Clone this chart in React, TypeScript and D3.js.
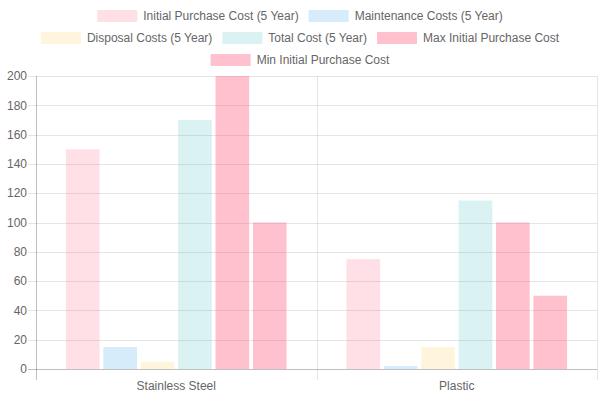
import * as d3 from 'd3';
import React, { useEffect, useRef } from 'react';

const categories = ['Stainless Steel', 'Plastic'];
const seriesNames = [
    'Initial Purchase Cost (5 Year)',
    'Maintenance Costs (5 Year)',
    'Disposal Costs (5 Year)',
    'Total Cost (5 Year)',
    'Max Initial Purchase Cost',
    'Min Initial Purchase Cost',
];
const initialCost = [150, 75];
const maintenanceCost = [15, 2];
const disposalCost = [5, 15];
const totalCost = [170, 115];
const maxInitialCost = [200, 100];
const minInitialCost = [100, 50];
const yTicks = [0, 20, 40, 60, 80, 100, 120, 140, 160, 180, 200];

const fills = [
    'rgba(255, 99, 132, 0.2)',
    'rgba(54, 162, 235, 0.2)',
    'rgba(255, 206, 86, 0.2)',
    'rgba(75, 192, 192, 0.2)',
    'rgba(255, 99, 132, 0.4)',
    'rgba(255, 99, 132, 0.4)',
];

export default function App() {
    const ref = useRef<any>();

    useEffect(() => {
        const series = [initialCost, maintenanceCost, disposalCost, totalCost, maxInitialCost, minInitialCost];
        const width = 600;
        const height = 400;
        const font = '"Liberation Sans", Arial, Helvetica, sans-serif';

        const svg = d3.select<any, any>(ref.current)
            .attr('width', width)
            .attr('height', height)
            .style('position', 'absolute')
            .style('left', '0px')
            .style('top', '0px')
            .style('font-family', font);
        svg.selectAll('*').remove();

        //legend: measure, then wrap into centred rows
        const legend = svg.append('g').attr('class', 'legend');
        const items = seriesNames.map((name, i) => {
            const g = legend.append('g');
            g.append('rect').attr('width', 40).attr('height', 12).attr('fill', fills[i]);
            const t = g.append('text')
                .attr('x', 46).attr('y', 6).attr('dy', '0.35em')
                .attr('font-size', 12).attr('fill', '#666').text(name);
            const w = 46 + (t.node() as any).getComputedTextLength();
            return { g, w };
        });
        const rows: any[][] = [[]];
        let rowW = 0;
        items.forEach((it) => {
            if (rows[rows.length - 1].length && rowW + 10 + it.w > 560) {
                rows.push([]);
                rowW = 0;
            }
            rowW += (rows[rows.length - 1].length ? 10 : 0) + it.w;
            rows[rows.length - 1].push(it);
        });
        rows.forEach((row, r) => {
            const total = d3.sum(row, (d: any) => d.w) + 10 * (row.length - 1);
            let x = (width - total) / 2;
            row.forEach((it) => {
                it.g.attr('transform', `translate(${x}, ${10 + r * 22})`);
                x += it.w + 10;
            });
        });

        //plot area
        const left = 36, right = 597, top = 76, bottom = 369;
        const yScale = d3.scaleLinear().domain([0, 200]).range([bottom, top]);
        const x0 = d3.scaleBand().domain(categories).range([left, right]).paddingInner(0).paddingOuter(0);
        const x1 = d3.scaleBand().domain(seriesNames)
            .range([0, x0.bandwidth()]).paddingInner(0.1).paddingOuter(0.1 + 0.05 * 0)
            ;
        // chart.js style: 80% of category, 90% of each slot
        const groupW = x0.bandwidth() * 0.8;
        const slotW = groupW / seriesNames.length;
        const barW = slotW * 0.9;

        const grid = svg.append('g').attr('class', 'grid');
        grid.selectAll('.h-line').data(yTicks).join('line')
            .attr('class', 'h-line')
            .attr('x1', left - 8).attr('x2', right)
            .attr('y1', (d: any) => Math.round(yScale(d)) + 0.5)
            .attr('y2', (d: any) => Math.round(yScale(d)) + 0.5)
            .attr('stroke', (d: any) => d === 0 ? 'rgba(0,0,0,0.25)' : 'rgba(0,0,0,0.1)');
        const vx = [left, left + x0.bandwidth(), right];
        grid.selectAll('.v-line').data(vx).join('line')
            .attr('class', 'v-line')
            .attr('x1', (d: any) => Math.round(d) + 0.5).attr('x2', (d: any) => Math.round(d) + 0.5)
            .attr('y1', top).attr('y2', bottom + 11)
            .attr('stroke', (d: any, i: number) => i === 0 ? 'rgba(0,0,0,0.25)' : 'rgba(0,0,0,0.1)');

        svg.append('g').selectAll('text').data(yTicks).join('text')
            .attr('x', 27).attr('y', (d: any) => yScale(d))
            .attr('dy', '0.35em').attr('text-anchor', 'end')
            .attr('font-size', 12).attr('fill', '#666')
            .text((d: any) => d);

        svg.append('g').selectAll('text').data(categories).join('text')
            .attr('x', (d: any) => (x0(d) as number) + x0.bandwidth() / 2)
            .attr('y', 386).attr('dy', '0.35em').attr('text-anchor', 'middle')
            .attr('font-size', 12).attr('fill', '#666')
            .text((d: any) => d);

        const bars = svg.append('g').attr('class', 'bars');
        categories.forEach((c, ci) => {
            const gx = (x0(c) as number) + (x0.bandwidth() - groupW) / 2;
            series.forEach((vals, si) => {
                const bx = gx + si * slotW + (slotW - barW) / 2;
                bars.append('rect')
                    .attr('x', bx)
                    .attr('y', yScale(vals[ci]))
                    .attr('width', barW)
                    .attr('height', bottom - yScale(vals[ci]))
                    .attr('fill', fills[si]);
            });
        });
        void x1;
    }, []);

    return (
        <React.Fragment>
            <svg ref={ref}></svg>
        </React.Fragment>
    );
}
